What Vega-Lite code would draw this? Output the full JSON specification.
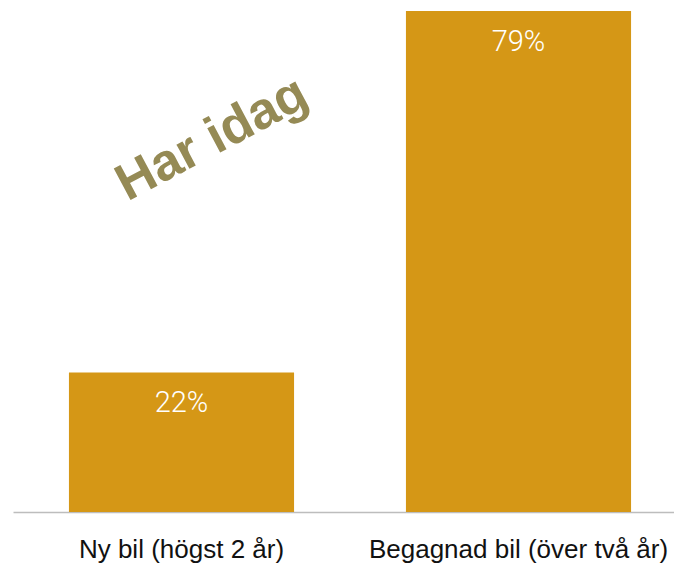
{
  "$schema": "https://vega.github.io/schema/vega-lite/v6.json",
  "autosize": "none",
  "width": 674,
  "height": 501,
  "padding": {"left": 13, "top": 11, "right": 0, "bottom": 51},
  "background": "white",
  "config": {"view": {"stroke": null}},
  "datasets": {
    "bars": [
      {"kategori": "Ny bil (högst 2 år)", "andel": 22, "etikett": "22%"},
      {"kategori": "Begagnad bil (över två år)", "andel": 79, "etikett": "79%"}
    ],
    "note": [
      {"kategori": "Ny bil (högst 2 år)", "andel": 56.3, "text": "Har idag"}
    ]
  },
  "encoding": {
    "x": {
      "field": "kategori",
      "type": "nominal",
      "sort": null,
      "scale": {"paddingInner": 0.332, "paddingOuter": 0.166},
      "axis": {
        "title": null,
        "labelAngle": 0,
        "ticks": false,
        "tickSize": 0,
        "labelPadding": 24,
        "labelFont": "Liberation Sans",
        "labelFontSize": 26,
        "labelColor": "#111111",
        "domainColor": "#bdbdbd",
        "domainWidth": 1.5,
        "labelLimit": 400
      }
    },
    "y": {
      "field": "andel",
      "type": "quantitative",
      "scale": {"domain": [0, 79], "nice": false},
      "axis": null
    }
  },
  "layer": [
    {
      "data": {"name": "bars"},
      "mark": {"type": "bar", "color": "#D59716"}
    },
    {
      "data": {"name": "bars"},
      "mark": {
        "type": "text",
        "color": "white",
        "font": "Roboto",
        "fontWeight": 300,
        "fontSize": 29,
        "baseline": "alphabetic",
        "align": "center",
        "dy": 40
      },
      "encoding": {"text": {"field": "etikett"}}
    },
    {
      "data": {"name": "note"},
      "mark": {
        "type": "text",
        "color": "#958A55",
        "font": "Liberation Sans",
        "fontWeight": "bold",
        "fontSize": 52,
        "angle": -28,
        "align": "center",
        "baseline": "middle",
        "dx": 34.5
      },
      "encoding": {"text": {"field": "text"}}
    }
  ]
}
